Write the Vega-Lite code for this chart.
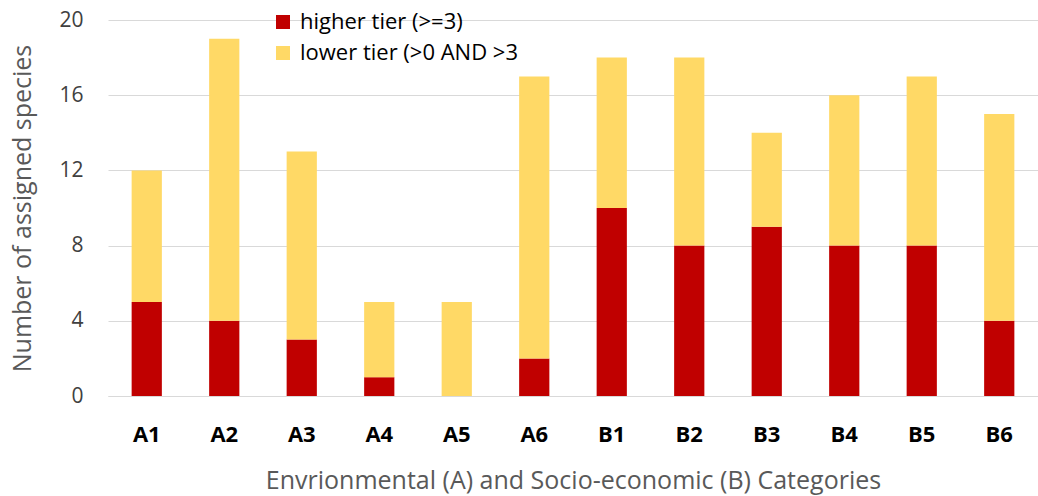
{
  "$schema": "https://vega.github.io/schema/vega-lite/v6.json",
  "width": 930,
  "height": 376,
  "autosize": {"type": "none"},
  "padding": {"left": 108, "top": 20, "right": 0, "bottom": 100},
  "background": "white",
  "config": {"view": {"stroke": null}, "font": "Open Sans"},
  "data": {"values": [
    {"cat": "A1", "tier": "higher tier (>=3)", "n": 5, "o": 1},
    {"cat": "A1", "tier": "lower tier (>0 AND >3", "n": 7, "o": 2},
    {"cat": "A2", "tier": "higher tier (>=3)", "n": 4, "o": 1},
    {"cat": "A2", "tier": "lower tier (>0 AND >3", "n": 15, "o": 2},
    {"cat": "A3", "tier": "higher tier (>=3)", "n": 3, "o": 1},
    {"cat": "A3", "tier": "lower tier (>0 AND >3", "n": 10, "o": 2},
    {"cat": "A4", "tier": "higher tier (>=3)", "n": 1, "o": 1},
    {"cat": "A4", "tier": "lower tier (>0 AND >3", "n": 4, "o": 2},
    {"cat": "A5", "tier": "higher tier (>=3)", "n": 0, "o": 1},
    {"cat": "A5", "tier": "lower tier (>0 AND >3", "n": 5, "o": 2},
    {"cat": "A6", "tier": "higher tier (>=3)", "n": 2, "o": 1},
    {"cat": "A6", "tier": "lower tier (>0 AND >3", "n": 15, "o": 2},
    {"cat": "B1", "tier": "higher tier (>=3)", "n": 10, "o": 1},
    {"cat": "B1", "tier": "lower tier (>0 AND >3", "n": 8, "o": 2},
    {"cat": "B2", "tier": "higher tier (>=3)", "n": 8, "o": 1},
    {"cat": "B2", "tier": "lower tier (>0 AND >3", "n": 10, "o": 2},
    {"cat": "B3", "tier": "higher tier (>=3)", "n": 9, "o": 1},
    {"cat": "B3", "tier": "lower tier (>0 AND >3", "n": 5, "o": 2},
    {"cat": "B4", "tier": "higher tier (>=3)", "n": 8, "o": 1},
    {"cat": "B4", "tier": "lower tier (>0 AND >3", "n": 8, "o": 2},
    {"cat": "B5", "tier": "higher tier (>=3)", "n": 8, "o": 1},
    {"cat": "B5", "tier": "lower tier (>0 AND >3", "n": 9, "o": 2},
    {"cat": "B6", "tier": "higher tier (>=3)", "n": 4, "o": 1},
    {"cat": "B6", "tier": "lower tier (>0 AND >3", "n": 11, "o": 2}
  ]},
  "mark": {"type": "bar"},
  "encoding": {
    "x": {
      "field": "cat", "type": "nominal", "sort": null,
      "scale": {"paddingInner": 0.61, "paddingOuter": 0.305},
      "axis": {
        "title": "Envrionmental (A) and Socio-economic (B) Categories",
        "labelAngle": 0, "labelFontSize": 22, "labelFontWeight": "bold", "labelColor": "#000000",
        "labelPadding": 28, "ticks": false, "domain": true, "domainColor": "#d9d9d9",
        "titleFontSize": 25, "titleFontWeight": "normal", "titleColor": "#595959", "titlePadding": 23
      }
    },
    "y": {
      "field": "n", "type": "quantitative", "stack": "zero",
      "scale": {"domain": [0, 20], "nice": false},
      "axis": {
        "title": "Number of assigned species",
        "values": [0, 4, 8, 12, 16, 20],
        "labelFontSize": 21, "labelColor": "#404040", "labelPadding": 25,
        "ticks": false, "domain": false,
        "grid": true, "gridColor": "#d9d9d9", "gridWidth": 1,
        "titleFontSize": 25, "titleFontWeight": "normal", "titleColor": "#595959", "titlePadding": 23
      }
    },
    "color": {
      "field": "tier", "type": "nominal",
      "scale": {"domain": ["higher tier (>=3)", "lower tier (>0 AND >3"], "range": ["#C00000", "#FFD966"]},
      "legend": {
        "title": null, "orient": "none", "legendX": 164, "legendY": -9,
        "symbolType": "square", "symbolSize": 196, "symbolStrokeWidth": 0,
        "labelFontSize": 22, "labelColor": "#000000", "labelOffset": 6, "labelLimit": 400,
        "rowPadding": 9, "padding": 0
      }
    },
    "order": {"field": "o", "type": "quantitative"}
  }
}
